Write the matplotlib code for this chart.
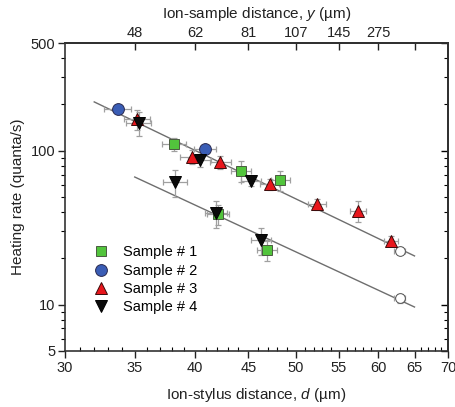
import matplotlib
matplotlib.use("Agg")
import matplotlib.pyplot as plt
import numpy as np
from matplotlib.ticker import FixedLocator, FuncFormatter, NullFormatter, NullLocator

plt.rcParams['font.family'] = ['Liberation Sans', 'DejaVu Sans']
plt.rcParams['mathtext.fontset'] = 'custom'
plt.rcParams['mathtext.it'] = 'Liberation Sans:italic'
plt.rcParams['mathtext.rm'] = 'Liberation Sans'

# ---- data (ion-stylus distance d in um, heating rate in quanta/s) ----
s1_d = [38.2, 44.3, 48.3, 42.1, 46.9]
s1_r = [110, 74, 64, 38.6, 22.6]
s1_xerr = [1.0, 1.0, 1.0, 1.0, 1.0]
s1_yerr = [0.10, 0.15, 0.15, 0.15, 0.15]

s2_d = [33.7, 40.9]
s2_r = [186, 102]
s2_xerr = [1.0, 1.0]
s2_yerr = [0.06, 0.06]

s3_d = [35.2, 39.7, 42.3, 47.2, 52.4, 57.4, 61.7]
s3_r = [160, 91.4, 84, 60.7, 45, 40.7, 26]
s3_xerr = [1.0, 1.0, 1.0, 1.0, 1.0, 1.0, 1.0]
s3_yerr = [0.15, 0.10, 0.10, 0.08, 0.08, 0.15, 0.08]

s4_d = [35.3, 40.4, 45.3, 38.3, 41.9, 46.3]
s4_r = [152, 87, 63.8, 62.8, 39.5, 26.3]
s4_xerr = [1.0, 1.0, 1.0, 1.0, 1.0, 1.0]
s4_yerr = [0.18, 0.10, 0.08, 0.20, 0.20, 0.20]

open_d = [62.9, 62.9]
open_r = [22.4, 11.0]
open_xerr = [0.8, 0.8]
open_yerr = [0.05, 0.07]

# power-law fits: rate = A * (d/50)^(-n), drawn over [d_start, d_end]
fit_upper = dict(A=48.6, n=3.25, d_start=32.0, d_end=65.0)
fit_lower = dict(A=22.0, n=3.14, d_start=35.0, d_end=65.0)

bottom_ticks = [30, 35, 40, 45, 50, 55, 60, 65, 70]
top_tick_pos = [35, 40, 45, 50, 55, 60, 65]
top_tick_labels = ['48', '62', '81', '107', '145', '275', '']
y_major = [5, 10, 100, 500]

fig = plt.figure(figsize=(4.55, 4.07), dpi=100)
ax = fig.add_axes([0.143, 0.1376, 0.9846 - 0.143, 0.8943 - 0.1376])
ax.set_xscale('log')
ax.set_yscale('log')
ax.set_xlim(30, 70)
ax.set_ylim(5, 500)

# fit lines
for f in (fit_upper, fit_lower):
    dd = np.linspace(f['d_start'], f['d_end'], 50)
    ax.plot(dd, f['A'] * (dd / 50.0) ** (-f['n']), color='#6e6e6e', lw=1.0, zorder=1)

ecol = '#a0a0a0'

def series(d, r, xe, ye, marker, fc, ec, ms, label):
    d = np.array(d); r = np.array(r); ye = np.array(ye)
    ax.errorbar(d, r, xerr=xe, yerr=r * ye, fmt='none', ecolor=ecol,
                elinewidth=0.9, capsize=2.2, capthick=0.9, zorder=2)
    ax.plot(d, r, linestyle='none', marker=marker, markerfacecolor=fc,
            markeredgecolor=ec, markeredgewidth=0.7, markersize=ms, zorder=3,
            label=label)

series(open_d, open_r, open_xerr, open_yerr, 'o', 'white', '#505050', 7, None)
series(s1_d, s1_r, s1_xerr, s1_yerr, 's', '#52c43c', '#4a5a40', 7.5, 'Sample # 1')
series(s2_d, s2_r, s2_xerr, s2_yerr, 'o', '#3a5db5', '#2a2a50', 8.5, 'Sample # 2')
series(s3_d, s3_r, s3_xerr, s3_yerr, '^', '#e8161c', '#3a0a0a', 9, 'Sample # 3')
series(s4_d, s4_r, s4_xerr, s4_yerr, 'v', '#0a0a0a', '#000000', 9, 'Sample # 4')

# ticks
ax.xaxis.set_major_locator(FixedLocator(bottom_ticks))
ax.xaxis.set_major_formatter(FuncFormatter(lambda v, p: f"{v:g}"))
ax.xaxis.set_minor_locator(FixedLocator([v for v in range(31, 70) if v % 5 != 0]))
ax.xaxis.set_minor_formatter(NullFormatter())
ax.yaxis.set_major_locator(FixedLocator(y_major))
ax.yaxis.set_major_formatter(FuncFormatter(lambda v, p: f"{v:g}"))
ax.yaxis.set_minor_locator(FixedLocator([6, 7, 8, 9] + list(range(20, 100, 10)) + [200, 300, 400]))
ax.yaxis.set_minor_formatter(NullFormatter())

ax.tick_params(axis='both', which='major', direction='out', length=5, width=1.0,
               labelsize=10.5, colors='#222222', pad=2)
ax.tick_params(axis='x', which='minor', direction='in', length=3, width=0.8)
ax.tick_params(axis='y', which='minor', direction='out', length=3, width=0.8)

for s in ax.spines.values():
    s.set_linewidth(1.2)
    s.set_color('#333333')

# right axis (ticks inward, no labels)
ry = ax.secondary_yaxis('right')
ry.set_yscale('log')
ry.yaxis.set_major_locator(FixedLocator(y_major))
ry.yaxis.set_minor_locator(FixedLocator([6, 7, 8, 9] + list(range(20, 100, 10)) + [200, 300, 400]))
ry.yaxis.set_major_formatter(NullFormatter())
ry.yaxis.set_minor_formatter(NullFormatter())
ry.tick_params(which='major', direction='in', length=5, width=1.0)
ry.tick_params(which='minor', direction='in', length=3, width=0.8)
ry.spines['right'].set_linewidth(1.2)

# top axis: ion-sample distance
tx = ax.secondary_xaxis('top')
tx.xaxis.set_major_locator(FixedLocator(top_tick_pos))
tx.xaxis.set_major_formatter(FuncFormatter(lambda v, p: top_tick_labels[top_tick_pos.index(int(round(v)))] if int(round(v)) in top_tick_pos else ''))
tx.xaxis.set_minor_locator(NullLocator())
tx.tick_params(which='major', direction='in', length=5, width=1.0, labelsize=10.5,
               colors='#222222', pad=2)
tx.spines['top'].set_linewidth(1.2)
tx.set_xlabel('Ion-sample distance, $y$ (µm)', fontsize=11, labelpad=6, color='#222222')

ax.set_xlabel('Ion-stylus distance, $d$ (µm)', fontsize=11, labelpad=8, color='#222222')
ax.set_ylabel('Heating rate (quanta/s)', fontsize=11, labelpad=4, color='#222222')

leg = ax.legend(loc='lower left', bbox_to_anchor=(0.055, 0.1), frameon=False,
                fontsize=10.5, handletextpad=0.9, labelspacing=0.3, handlelength=1.2,
                borderaxespad=0)

fig.savefig('out.png', dpi=100)
